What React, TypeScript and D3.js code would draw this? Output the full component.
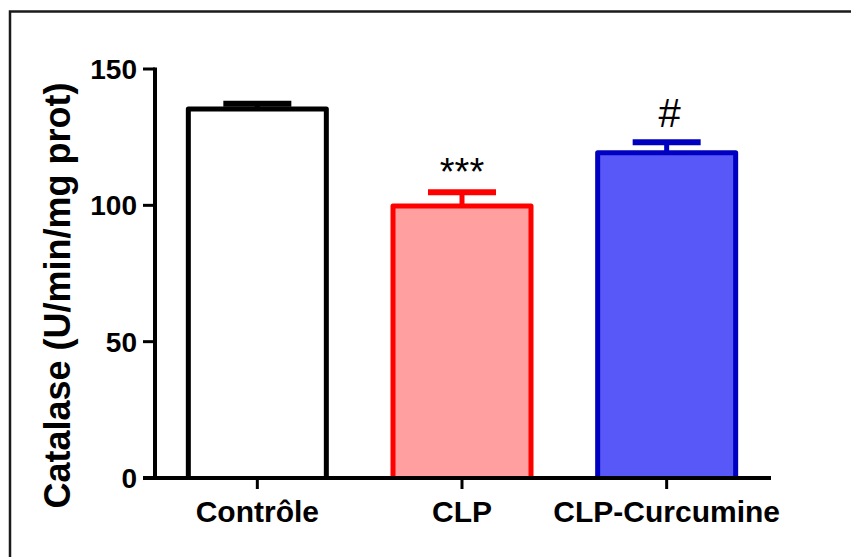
import * as d3 from "d3";

const WIDTH = 851;
const HEIGHT = 557;

const categories = ["Contrôle", "CLP", "CLP-Curcumine"];
const means = [135.3, 99.8, 119.3];
const sems = [2.0, 5.0, 3.8];
const marks = ["", "***", "#"];
const strokeColors = ["#000000", "#ff0000", "#0000c0"];
const fillColors = ["#ffffff", "#ff9f9f", "#5858f8"];
const yTicks = [0, 50, 100, 150];

const PLOT = { left: 155, right: 769, top: 69, bottom: 478 };
const BAR_W = 138;
const CAP_W = 68;

export default function App() {
  const x = d3
    .scalePoint<string>()
    .domain(categories)
    .range([PLOT.left, PLOT.right])
    .padding(0.5);

  const y = d3
    .scaleLinear()
    .domain([0, 150])
    .range([PLOT.bottom, PLOT.top]);

  const font = "'Liberation Sans', Arial, sans-serif";

  return (
    <svg
      width={WIDTH}
      height={HEIGHT}
      style={{ position: "absolute", left: 0, top: 0, display: "block" }}
    >
      <rect width={WIDTH} height={HEIGHT} fill="#ffffff" />
      {/* frame, open to the right and bottom */}
      <rect x={10} y={11.5} width={1000} height={1000} fill="none" stroke="#1a1a1a" strokeWidth={2.5} />

      {/* bars with error bars */}
      {categories.map((c, i) => {
        const cx = x(c) as number;
        const top = y(means[i]);
        const errY = y(means[i] + sems[i]);
        return (
          <g key={c}>
            <line x1={cx} x2={cx} y1={top} y2={errY} stroke={strokeColors[i]} strokeWidth={5} />
            <line
              x1={cx - CAP_W / 2}
              x2={cx + CAP_W / 2}
              y1={errY}
              y2={errY}
              stroke={strokeColors[i]}
              strokeWidth={6}
            />
            <path
              d={`M${cx - BAR_W / 2},${PLOT.bottom} V${top} H${cx + BAR_W / 2} V${PLOT.bottom}`}
              fill={fillColors[i]}
              stroke={strokeColors[i]}
              strokeWidth={5}
              strokeLinejoin="round"
            />
            {marks[i] === "***" && (
              <text x={cx} y={errY - 7} textAnchor="middle" fontFamily={font} fontSize={38}>
                {marks[i]}
              </text>
            )}
            {marks[i] === "#" && (
              <text x={cx + 3} y={errY - 15} textAnchor="middle" fontFamily={font} fontSize={40}>
                {marks[i]}
              </text>
            )}
          </g>
        );
      })}

      {/* y axis */}
      <line x1={PLOT.left} x2={PLOT.left} y1={PLOT.top - 1.5} y2={PLOT.bottom} stroke="#000" strokeWidth={4} />
      {yTicks.map((t) => (
        <g key={t}>
          <line x1={143} x2={PLOT.left} y1={y(t)} y2={y(t)} stroke="#000" strokeWidth={3} />
          <text
            x={137}
            y={y(t)}
            dy="0.36em"
            textAnchor="end"
            fontFamily={font}
            fontWeight="bold"
            fontSize={28}
          >
            {t}
          </text>
        </g>
      ))}

      {/* x axis */}
      <line x1={143} x2={771} y1={PLOT.bottom} y2={PLOT.bottom} stroke="#000" strokeWidth={4} />
      {categories.map((c) => (
        <g key={c}>
          <line
            x1={x(c) as number}
            x2={x(c) as number}
            y1={PLOT.bottom}
            y2={PLOT.bottom + 11}
            stroke="#000"
            strokeWidth={3}
          />
          <text
            x={x(c) as number}
            y={522}
            textAnchor="middle"
            fontFamily={font}
            fontWeight="bold"
            fontSize={30}
          >
            {c}
          </text>
        </g>
      ))}

      <text
        transform="translate(70,295.5) rotate(-90)"
        textAnchor="middle"
        fontFamily={font}
        fontWeight="bold"
        fontSize={36}
      >
        Catalase (U/min/mg prot)
      </text>
    </svg>
  );
}
